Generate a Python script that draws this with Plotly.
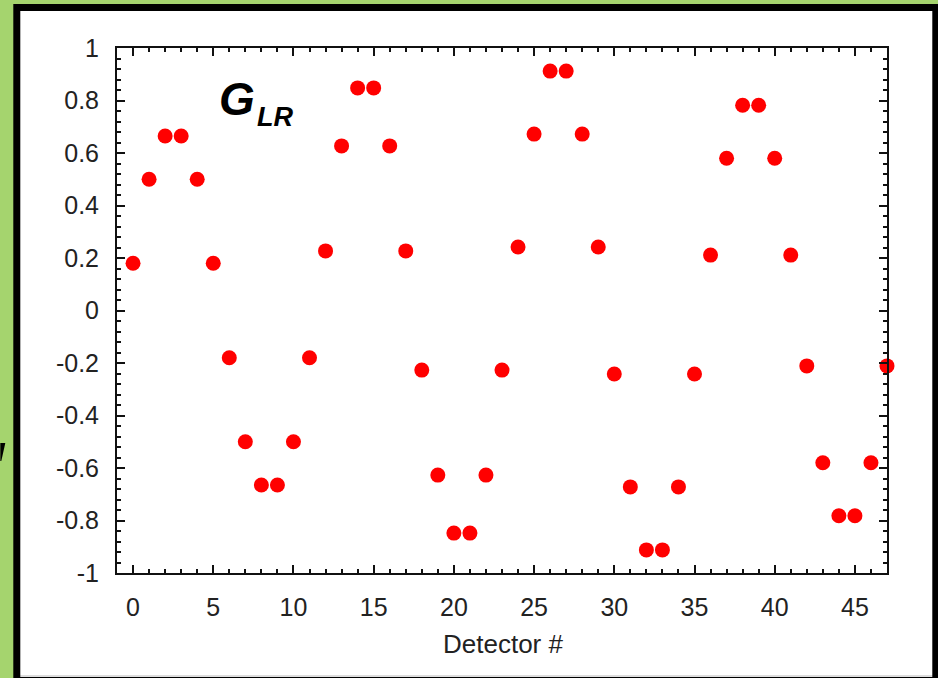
import plotly.graph_objects as go

detectors = list(range(48))
g_lr = [0.18, 0.50, 0.665, 0.665, 0.50, 0.18,
        -0.18, -0.50, -0.665, -0.665, -0.50, -0.18,
        0.227, 0.627, 0.848, 0.848, 0.627, 0.227,
        -0.227, -0.627, -0.848, -0.848, -0.627, -0.227,
        0.242, 0.672, 0.912, 0.912, 0.672, 0.242,
        -0.242, -0.672, -0.912, -0.912, -0.672, -0.242,
        0.211, 0.58, 0.782, 0.782, 0.58, 0.211,
        -0.211, -0.58, -0.782, -0.782, -0.58, -0.211]
x_ticks = [0, 5, 10, 15, 20, 25, 30, 35, 40, 45]
y_ticks = [1, 0.8, 0.6, 0.4, 0.2, 0, -0.2, -0.4, -0.6, -0.8, -1]
y_ticklabels = ["1", "0.8", "0.6", "0.4", "0.2", "0", "-0.2", "-0.4", "-0.6", "-0.8", "-1"]

W, H = 938, 678
L, R, T, B = 116.7, 886.7, 48, 573

def px(x):
    return (x - L) / (R - L)

def py(y):
    return (B - y) / (B - T)

FONT = "Liberation Sans, Arial, sans-serif"

fig = go.Figure()
fig.add_trace(go.Scatter(
    x=detectors, y=g_lr, mode="markers",
    marker=dict(color="#ff0000", size=15, line=dict(width=0)),
    cliponaxis=False, showlegend=False))

axis_common = dict(
    showgrid=False, zeroline=False, showline=True, linecolor="#111", linewidth=2,
    mirror="allticks", ticks="inside", ticklen=8, tickwidth=1.5, tickcolor="#111",
    tickfont=dict(family=FONT, size=25, color="#222"),
)
fig.update_xaxes(range=[-1, 47], tickvals=x_ticks, ticklabelstandoff=11,
                 minor=dict(dtick=1, ticks="inside", ticklen=4, tickwidth=1.5, tickcolor="#111"),
                 **axis_common)
fig.update_yaxes(range=[-1, 1], tickvals=y_ticks, ticktext=y_ticklabels, ticklabelstandoff=11,
                 minor=dict(dtick=0.04, ticks="inside", ticklen=4, tickwidth=1.5, tickcolor="#111"),
                 **axis_common)

shapes = [
    dict(type="rect", xref="paper", yref="paper", layer="below",
         x0=px(13), x1=px(945), y0=py(4), y1=py(690), fillcolor="black", line=dict(width=0)),
    dict(type="rect", xref="paper", yref="paper", layer="below",
         x0=px(20), x1=px(932), y0=py(11), y1=py(675), fillcolor="white", line=dict(width=0)),
    dict(type="rect", xref="paper", yref="paper", layer="below",
         x0=px(20), x1=px(932), y0=py(675), y1=py(677), fillcolor="#dddddd", line=dict(width=0)),
    dict(type="path", xref="paper", yref="paper",
         path=f"M {px(0)} {py(443)} L {px(5)} {py(443)} L {px(1)} {py(461)} L {px(0)} {py(461)} Z",
         fillcolor="black", line=dict(width=0)),
]

annotations = [
    dict(text="Detector #", xref="paper", yref="paper", x=px(503), y=py(644),
         showarrow=False, xanchor="center", yanchor="middle",
         font=dict(family=FONT, size=26, color="#222")),
    dict(text="<b><i>G</i></b>", xref="paper", yref="paper", x=px(237), y=py(99),
         showarrow=False, xanchor="center", yanchor="middle",
         font=dict(family=FONT, size=46, color="black")),
    dict(text="<b><i>LR</i></b>", xref="paper", yref="paper", x=px(275), y=py(117),
         showarrow=False, xanchor="center", yanchor="middle",
         font=dict(family=FONT, size=27, color="black")),
]

fig.update_layout(
    width=W, height=H, autosize=False,
    margin=dict(l=L, r=W - R, t=T, b=H - B, pad=0),
    paper_bgcolor="#a5d46e", plot_bgcolor="white",
    shapes=shapes, annotations=annotations,
)

fig.write_html("out.html")
